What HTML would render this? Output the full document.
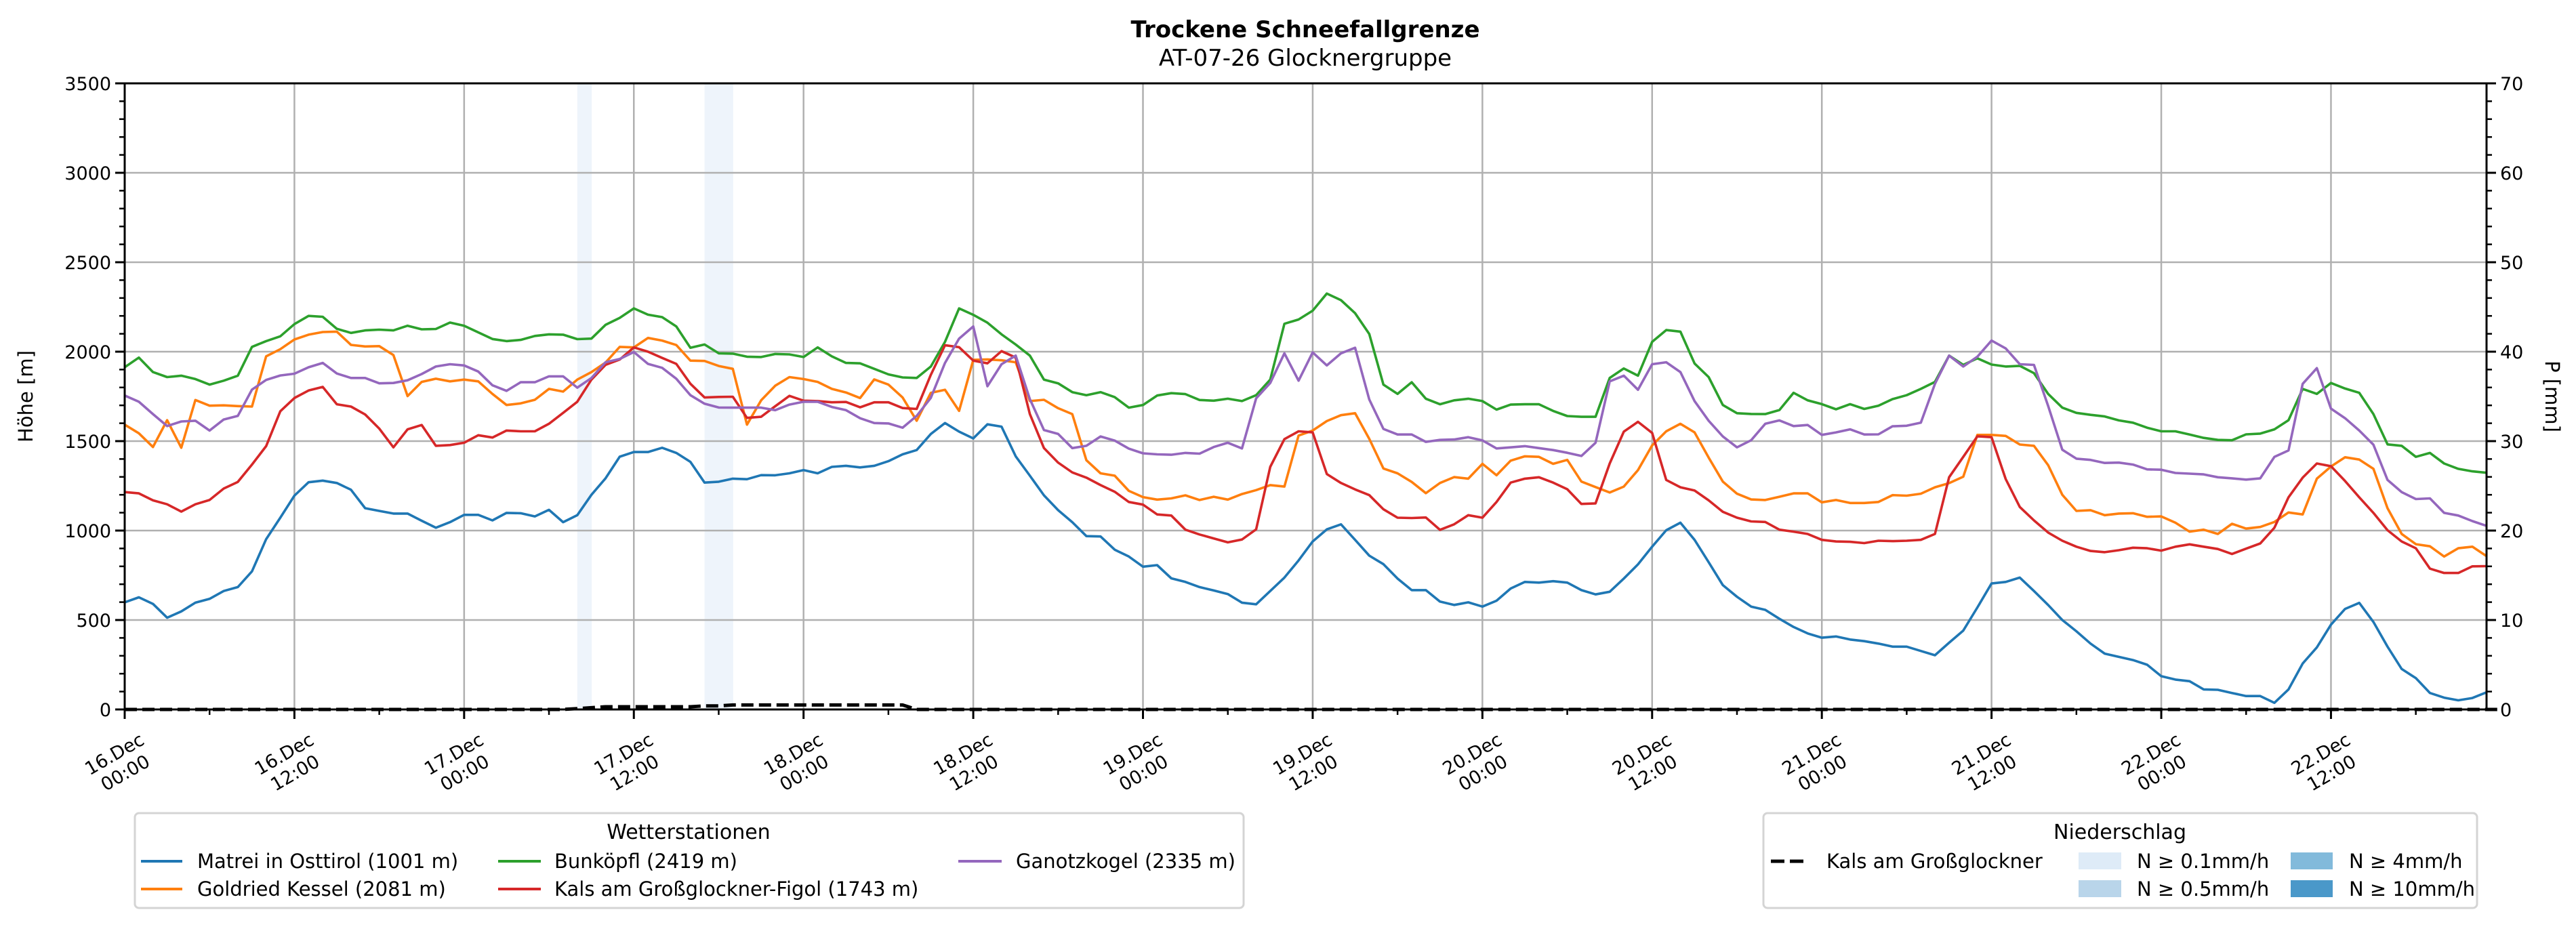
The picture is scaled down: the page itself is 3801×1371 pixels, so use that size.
<!DOCTYPE html>
<html><head><meta charset="utf-8">
<style>
html,body{margin:0;padding:0;background:#fff;}
svg{display:block;font-family:"DejaVu Sans","Liberation Sans",sans-serif;}
</style></head>
<body>
<svg id="chart" width="3801" height="1371" viewBox="0 0 3801 1371" xmlns="http://www.w3.org/2000/svg">
<rect width="3801" height="1371" fill="#fff"/>
<text x="1926" y="55" text-anchor="middle" font-size="34" font-weight="bold">Trockene Schneefallgrenze</text>
<text x="1926" y="97" text-anchor="middle" font-size="34">AT-07-26 Glocknergruppe</text>
<g id="plot"></g>
<text transform="translate(48,585) rotate(-90)" text-anchor="middle" font-size="29">Höhe [m]</text>
<text transform="translate(3756,585) rotate(90)" text-anchor="middle" font-size="29">P [mm]</text>

<g>
<rect x="199" y="1200" width="1636" height="140" rx="6" fill="#fff" stroke="#d4d4d4" stroke-width="3"/>
<text x="1016" y="1238" text-anchor="middle" font-size="30">Wetterstationen</text>
<g><line x1="208" y1="1271" x2="269" y2="1271" stroke="#1f77b4" stroke-width="4"/><text x="291" y="1281" font-size="29">Matrei in Osttirol (1001 m)</text></g>
<g><line x1="208" y1="1312" x2="269" y2="1312" stroke="#ff7f0e" stroke-width="4"/><text x="291" y="1322" font-size="29">Goldried Kessel (2081 m)</text></g>
<g><line x1="735" y1="1271" x2="798" y2="1271" stroke="#2ca02c" stroke-width="4"/><text x="818" y="1281" font-size="29">Bunköpfl (2419 m)</text></g>
<g><line x1="735" y1="1312" x2="798" y2="1312" stroke="#d62728" stroke-width="4"/><text x="818" y="1322" font-size="29">Kals am Großglockner-Figol (1743 m)</text></g>
<g><line x1="1414" y1="1271" x2="1478" y2="1271" stroke="#9467bd" stroke-width="4"/><text x="1499" y="1281" font-size="29">Ganotzkogel (2335 m)</text></g>
</g>

<g>
<rect x="2602" y="1200" width="1053" height="140" rx="6" fill="#fff" stroke="#d4d4d4" stroke-width="3"/>
<text x="3128" y="1238" text-anchor="middle" font-size="30">Niederschlag</text>
<g><line x1="2613" y1="1271" x2="2669" y2="1271" stroke="#000" stroke-width="5" stroke-dasharray="20,8"/><text x="2695" y="1281" font-size="29">Kals am Großglockner</text></g>
<g><rect x="3067" y="1258" width="63" height="25" fill="#deebf7"/><text x="3153" y="1281" font-size="29">N ≥ 0.1mm/h</text></g>
<g><rect x="3067" y="1299" width="63" height="25" fill="#b9d5ea"/><text x="3153" y="1322" font-size="29">N ≥ 0.5mm/h</text></g>
<g><rect x="3380" y="1258" width="62" height="25" fill="#82badb"/><text x="3466" y="1281" font-size="29">N ≥ 4mm/h</text></g>
<g><rect x="3380" y="1299" width="62" height="25" fill="#4a98c9"/><text x="3466" y="1322" font-size="29">N ≥ 10mm/h</text></g>
</g>
</svg>
<script>
const matrei=[599,627,590,513,548,597,618,662,684,772,952,1072,1195,1270,1279,1266,1228,1125,1110,1095,1095,1055,1016,1047,1088,1088,1057,1099,1097,1079,1116,1047,1086,1200,1292,1413,1439,1439,1463,1434,1384,1268,1273,1290,1287,1310,1309,1320,1338,1320,1356,1362,1353,1362,1388,1426,1450,1540,1601,1553,1515,1594,1581,1415,1307,1197,1114,1047,969,967,893,855,798,807,733,713,684,665,645,597,588,662,737,833,939,1007,1035,948,860,812,732,667,667,603,584,599,575,608,676,713,709,717,709,667,643,658,732,811,910,1002,1044,948,823,695,630,575,557,507,461,425,401,408,391,382,368,351,351,327,303,373,441,570,704,713,737,662,584,500,437,368,312,294,276,250,186,167,158,112,110,92,75,75,37,112,257,347,474,562,596,489,351,226,175,92,66,51,64,96];
const goldried=[1592,1544,1467,1617,1463,1730,1698,1700,1696,1693,1974,2014,2068,2095,2110,2112,2038,2029,2031,1981,1752,1831,1849,1834,1844,1834,1764,1702,1711,1731,1792,1777,1844,1886,1939,2027,2024,2077,2062,2037,1950,1948,1920,1904,1592,1728,1810,1858,1847,1831,1792,1772,1741,1845,1816,1744,1614,1770,1787,1669,1954,1957,1952,1941,1724,1731,1684,1651,1393,1320,1307,1222,1187,1173,1180,1197,1171,1189,1173,1204,1226,1254,1246,1531,1559,1612,1645,1656,1513,1347,1320,1272,1209,1266,1299,1290,1373,1309,1391,1415,1412,1373,1395,1274,1243,1213,1246,1338,1476,1555,1597,1549,1408,1274,1206,1174,1171,1189,1208,1208,1158,1171,1154,1154,1160,1198,1195,1206,1242,1265,1301,1535,1535,1529,1481,1474,1366,1200,1110,1114,1086,1095,1097,1077,1079,1044,994,1005,981,1038,1011,1020,1048,1101,1090,1290,1358,1410,1397,1345,1125,981,924,912,855,901,910,857];
const bunkoepfl=[1913,1967,1886,1858,1866,1847,1816,1838,1866,2027,2059,2086,2154,2200,2195,2128,2105,2119,2123,2119,2145,2125,2127,2163,2145,2108,2071,2059,2066,2088,2097,2095,2070,2073,2150,2189,2242,2207,2193,2141,2022,2040,1991,1989,1972,1970,1987,1985,1970,2024,1974,1937,1935,1904,1873,1856,1853,1917,2055,2242,2206,2162,2097,2040,1978,1844,1823,1774,1757,1774,1746,1687,1702,1755,1768,1763,1730,1726,1737,1724,1757,1844,2156,2180,2229,2325,2288,2215,2099,1816,1764,1829,1737,1706,1728,1737,1724,1676,1704,1706,1706,1669,1640,1636,1636,1853,1906,1866,2055,2121,2112,1934,1858,1702,1656,1652,1651,1674,1770,1728,1707,1678,1707,1680,1698,1735,1757,1792,1831,1978,1926,1963,1928,1917,1921,1880,1764,1687,1658,1647,1638,1616,1603,1575,1555,1555,1537,1518,1507,1505,1538,1542,1566,1617,1792,1764,1825,1794,1770,1651,1482,1474,1412,1434,1375,1345,1331,1323];
const kalsFigol=[1215,1208,1169,1147,1106,1147,1171,1235,1272,1369,1472,1667,1741,1783,1803,1706,1693,1649,1570,1465,1566,1590,1474,1478,1491,1533,1520,1559,1555,1555,1597,1658,1720,1844,1926,1956,2024,2000,1965,1932,1821,1744,1747,1748,1630,1636,1695,1753,1726,1724,1717,1719,1689,1717,1717,1685,1680,1871,2036,2025,1950,1935,2003,1967,1651,1461,1380,1325,1296,1254,1217,1160,1145,1090,1084,1005,978,956,934,950,1007,1356,1511,1555,1549,1316,1266,1230,1198,1119,1072,1070,1073,1004,1035,1086,1072,1160,1268,1290,1298,1268,1231,1149,1152,1375,1553,1608,1546,1283,1242,1224,1169,1105,1072,1051,1048,1005,994,981,948,939,937,930,943,941,943,948,981,1298,1412,1527,1522,1288,1132,1057,989,943,910,886,879,890,904,901,888,910,923,910,897,869,899,928,1016,1186,1296,1375,1360,1277,1186,1099,1002,939,901,787,763,763,800,801];
const ganotzkogel=[1755,1720,1651,1584,1610,1614,1559,1621,1641,1788,1842,1867,1877,1913,1937,1878,1853,1853,1823,1825,1840,1875,1917,1930,1923,1889,1812,1781,1829,1829,1862,1862,1799,1853,1941,1959,1998,1932,1910,1849,1757,1709,1688,1687,1687,1687,1673,1704,1720,1720,1691,1673,1628,1601,1599,1575,1641,1742,1937,2073,2141,1807,1930,1978,1735,1562,1540,1461,1474,1526,1503,1458,1432,1426,1424,1434,1430,1467,1491,1459,1739,1825,1991,1838,1996,1923,1991,2022,1733,1568,1537,1537,1496,1507,1509,1522,1504,1459,1465,1472,1461,1450,1435,1417,1491,1834,1866,1787,1930,1941,1886,1724,1614,1526,1465,1505,1597,1616,1584,1590,1535,1549,1566,1537,1538,1583,1586,1603,1820,1978,1917,1972,2062,2018,1930,1926,1697,1452,1402,1395,1378,1380,1369,1342,1340,1322,1318,1314,1298,1292,1285,1292,1412,1448,1820,1908,1682,1628,1559,1480,1283,1215,1176,1180,1099,1084,1053,1026];
const precipKals=[0,0,0,0,0,0,0,0,0,0,0,0,0,0,0,0,0,0,0,0,0,0,0,0,0,0,0,0,0,0,0,0,0.1,0.2,0.3,0.3,0.3,0.3,0.3,0.3,0.3,0.4,0.4,0.5,0.5,0.5,0.5,0.5,0.5,0.5,0.5,0.5,0.5,0.5,0.5,0.5,0,0,0,0,0,0,0,0,0,0,0,0,0,0,0,0,0,0,0,0,0,0,0,0,0,0,0,0,0,0,0,0,0,0,0,0,0,0,0,0,0,0,0,0,0,0,0,0,0,0,0,0,0,0,0,0,0,0,0,0,0,0,0,0,0,0,0,0,0,0,0,0,0,0,0,0,0,0,0,0,0,0,0,0,0,0,0,0,0,0,0,0,0,0,0,0,0,0,0,0,0,0,0,0,0,0,0,0,0,0,0,0,0];
const precipBarHours=[32,41,42];
const xTickLabels=["16.Dec|00:00","16.Dec|12:00","17.Dec|00:00","17.Dec|12:00","18.Dec|00:00","18.Dec|12:00","19.Dec|00:00","19.Dec|12:00","20.Dec|00:00","20.Dec|12:00","21.Dec|00:00","21.Dec|12:00","22.Dec|00:00","22.Dec|12:00"];
const yTicksLeft=[0,500,1000,1500,2000,2500,3000,3500];
const yTicksRight=[0,10,20,30,40,50,60,70];

const NS="http://www.w3.org/2000/svg";
const L=184,R=3669,T=123,B=1047,HMAX=167;
const xs=h=>L+(R-L)*h/HMAX;
const ys=v=>B-(B-T)*v/3500;
const yp=v=>B-(B-T)*v/70;
const plot=document.getElementById('plot');
function mk(tag,attrs,parent){const e=document.createElementNS(NS,tag);for(const k in attrs)e.setAttribute(k,attrs[k]);(parent||plot).appendChild(e);return e;}

precipBarHours.forEach(h=>{
  const r=mk('rect',{x:xs(h),y:T,width:xs(h+1)-xs(h)+0.5,height:B-T,fill:'#eef4fb'});
  
  
});
for(let i=0;i<xTickLabels.length;i++){
  const x=xs(i*12);
  const g=mk('line',{x1:x,y1:T,x2:x,y2:B,stroke:'#b0b0b0','stroke-width':2.5});
  
  
}
yTicksLeft.forEach(v=>{
  const g=mk('line',{x1:L,y1:ys(v),x2:R,y2:ys(v),stroke:'#b0b0b0','stroke-width':2.5});
  
  
});
const series=[[matrei,'#1f77b4','series-matrei'],[goldried,'#ff7f0e','series-goldried'],[bunkoepfl,'#2ca02c','series-bunkoepfl'],[kalsFigol,'#d62728','series-kals-figol'],[ganotzkogel,'#9467bd','series-ganotzkogel']];
series.forEach(([d,c,n])=>{
  const p=mk('polyline',{points:d.map((v,i)=>xs(i).toFixed(1)+','+ys(v).toFixed(1)).join(' '),fill:'none',stroke:c,'stroke-width':3.6,'stroke-linejoin':'round'});
  
  
});
const pl=mk('polyline',{points:precipKals.map((v,i)=>xs(i).toFixed(1)+','+yp(v).toFixed(1)).join(' '),fill:'none',stroke:'#000','stroke-width':5,'stroke-dasharray':'18,8'});


const fr=mk('rect',{x:L,y:T,width:R-L,height:B-T,fill:'none',stroke:'#000','stroke-width':3});


for(let h=0;h<=HMAX;h+=6){
  const major=h%12===0;
  const t=mk('line',{x1:xs(h),y1:B,x2:xs(h),y2:B+(major?14:8),stroke:'#000','stroke-width':major?3:2.5});
  
  
}
xTickLabels.forEach((lab,i)=>{
  const cx=xs(i*12)-7,cy=1127;
  const parts=lab.split('|');
  const tx=mk('text',{x:cx,y:cy-7,'text-anchor':'middle','font-size':27,transform:`rotate(-30 ${cx} ${cy})`});
  
  
  const a=mk('tspan',{x:cx,dy:0},tx);a.textContent=parts[0];
  const b=mk('tspan',{x:cx,dy:32},tx);b.textContent=parts[1];
});
for(let v=0;v<=3500;v+=100){
  const major=v%500===0;
  const t=mk('line',{x1:L-(major?14:8),y1:ys(v),x2:L,y2:ys(v),stroke:'#000','stroke-width':major?3:2.5});
  
  
}
yTicksLeft.forEach(v=>{
  const t=mk('text',{x:L-20,y:ys(v)+10,'text-anchor':'end','font-size':27});
  
  
  t.textContent=v;
});
for(let v=0;v<=70;v+=2){
  const major=v%10===0;
  const t=mk('line',{x1:R,y1:yp(v),x2:R+(major?14:8),y2:yp(v),stroke:'#000','stroke-width':major?3:2.5});
  
  
}
yTicksRight.forEach(v=>{
  const t=mk('text',{x:R+20,y:yp(v)+10,'text-anchor':'start','font-size':27});
  
  
  t.textContent=v;
});
</script>
</body></html>
